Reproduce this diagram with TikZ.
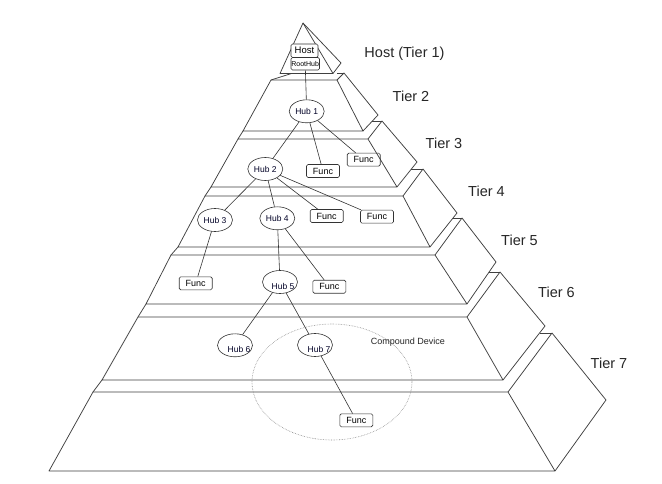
\documentclass[tikz,border=0pt]{standalone}
\usepackage{fontspec}
\setmainfont{Liberation Sans}
\usetikzlibrary{shapes.geometric,calc}
\begin{document}
\begin{tikzpicture}[x=1pt,y=-1pt,
  pyr/.style={draw=black!75,line width=0.75pt,line join=round},
  hub/.style={ellipse,draw=black!80,line width=0.6pt,minimum width=35pt,minimum height=23pt,inner sep=0pt,font=\fontsize{8.5}{10}\selectfont,text=black!85!blue},
  func/.style={rectangle,rounded corners=1.5pt,draw=black!80,line width=0.6pt,minimum width=33pt,minimum height=13pt,inner sep=0pt,font=\fontsize{9}{10}\selectfont},
  hbox/.style={rectangle,rounded corners=1.5pt,draw=black!80,line width=0.6pt,inner sep=0pt},
  tier/.style={font=\fontsize{14.5}{16}\selectfont,text=black!85},
  link/.style={draw=black!80,line width=0.6pt}]
\useasboundingbox (0,0) rectangle (662,484);
\fill[white] (0,0) rectangle (662,484);
% tier 1
\coordinate (A) at (303,23);
\coordinate (BL1) at (280,73.5); \coordinate (BR1) at (333,73.5); \coordinate (RV1) at (341,63);
\coordinate (K1) at (291.5,73.5);
% tiers 2..7
\coordinate (TL2) at (271,80);  \coordinate (TR2) at (337,80);  \coordinate (BR2) at (363,131); \coordinate (BL2) at (243,131); \coordinate (TB2) at (344,73);  \coordinate (RV2) at (378,115); \coordinate (L2) at (336.5,73);
\coordinate (TL3) at (238,139); \coordinate (TR3) at (368,139); \coordinate (BR3) at (397,187); \coordinate (BL3) at (211,187); \coordinate (TB3) at (382,121); \coordinate (RV3) at (417,162); \coordinate (L3) at (372,121);
\coordinate (TL4) at (205,196); \coordinate (TR4) at (403,196); \coordinate (BR4) at (430,247); \coordinate (BL4) at (178,247); \coordinate (TB4) at (423,169); \coordinate (RV4) at (457,213); \coordinate (L4) at (411.4,169);
\coordinate (TL5) at (171,255); \coordinate (TR5) at (435,255); \coordinate (BR5) at (467,304); \coordinate (BL5) at (146,304); \coordinate (TB5) at (462,218); \coordinate (RV5) at (496,262); \coordinate (L5) at (453,218);
\coordinate (TL6) at (138,317); \coordinate (TR6) at (467,317); \coordinate (BR6) at (503,380); \coordinate (BL6) at (102,380); \coordinate (TB6) at (500,272); \coordinate (RV6) at (545,326); \coordinate (L6) at (489.1,272);
\coordinate (TL7) at (93,392);  \coordinate (TR7) at (508,392); \coordinate (BR7) at (555,471); \coordinate (BL7) at (49,471);  \coordinate (TB7) at (552,333); \coordinate (RV7) at (606,400); \coordinate (L7) at (539.6,333);
\draw[pyr] (A) -- (BL1) -- (BR1) -- cycle;
\draw[pyr] (A) -- (RV1) -- (BR1);
\foreach \i/\j in {3/2,4/3,5/4,6/5,7/6}{
  \draw[pyr] (TL\i) -- (BL\j);
}
\foreach \i in {2,...,7}{
  \draw[pyr] (TL\i) -- (TR\i) -- (BR\i) -- (BL\i) -- cycle;
  \draw[pyr] (TR\i) -- (TB\i) -- (RV\i) -- (BR\i);
  \draw[pyr] (TB\i) -- (L\i);
}
\draw[pyr] (TL2) -- (K1);
% nodes
\node[hbox,fill=white,minimum width=27pt,minimum height=13.5pt,font=\fontsize{9.5}{10}\selectfont] (host) at (304.5,50.75) {Host};
\node[hbox,fill=white,minimum width=28.5pt,minimum height=12.5pt,font=\fontsize{7}{8}\selectfont] (root) at (305.2,63.75) {RootHub};
\node[hub] (h1) at (306.7,111.3) {Hub 1};
\node[hub] (h2) at (265.3,169) {Hub 2};
\node[hub] (h3) at (215,220) {Hub 3};
\node[hub] (h4) at (277.3,218.3) {Hub 4};
\node[hub,label={[font=\fontsize{8.5}{10}\selectfont,text=black!85!blue,xshift=3pt,yshift=-4pt]center:Hub 5}] (h5) at (280,282) {};
\node[hub,label={[font=\fontsize{8.5}{10}\selectfont,text=black!85!blue,xshift=4pt,yshift=-4pt]center:Hub 6}] (h6) at (235,345.3) {};
\node[hub,label={[font=\fontsize{8.5}{10}\selectfont,text=black!85!blue,xshift=4pt,yshift=-4pt]center:Hub 7}] (h7) at (315,345) {};
\node[func] (f1) at (323,171) {Func};
\node[func] (f2) at (363.7,159.7) {Func};
\node[func] (f3) at (326.7,216) {Func};
\node[func] (f4) at (377,216.7) {Func};
\node[func] (f5) at (195.7,283.3) {Func};
\node[func] (f6) at (329.3,286.7) {Func};
\node[func] (f7) at (356.3,420.3) {Func};
\node[ellipse,draw=black!45,densely dotted,line width=0.6pt,minimum width=160pt,minimum height=116pt] (cd) at (332,382) {};
\node[font=\fontsize{9}{10}\selectfont,text=black!85] (cdl) at (408,342) {Compound Device};
% links
\draw[link] (root) -- (h1);
\draw[link] (h1) -- (h2);
\draw[link] (h1) -- (f1);
\draw[link] (h1) -- (f2);
\draw[link] (h2) -- (h3);
\draw[link] (h2) -- (h4);
\draw[link] (h2) -- (f3);
\draw[link] (h2) -- (f4);
\draw[link] (h3) -- (f5);
\draw[link] (h4) -- (h5);
\draw[link] (h4) -- (f6);
\draw[link] (h5) -- (h6);
\draw[link] (h5) -- (h7);
\draw[link] (h7) -- (f7);
% tier labels
\node[tier] (t1) at (404.5,54) {Host (Tier 1)};
\node[tier] (t2) at (411,96) {Tier 2};
\node[tier] (t3) at (444,143) {Tier 3};
\node[tier] (t4) at (486.5,191) {Tier 4};
\node[tier] (t5) at (519.5,240.5) {Tier 5};
\node[tier] (t6) at (556.5,292.5) {Tier 6};
\node[tier] (t7) at (609,363) {Tier 7};
\end{tikzpicture}
\end{document}
